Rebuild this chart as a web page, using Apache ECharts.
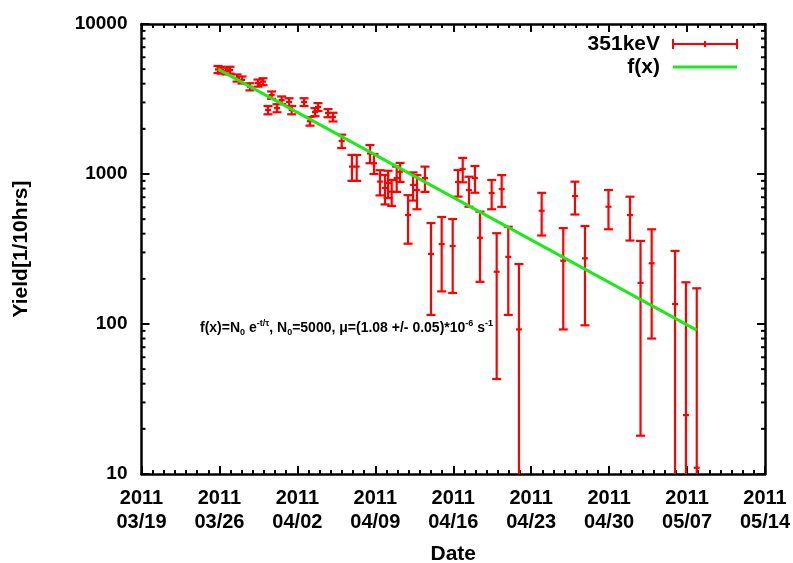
<!DOCTYPE html>
<html>
<head>
<meta charset="utf-8">
<script src="https://cdn.jsdelivr.net/npm/echarts@6.0.0/dist/echarts.min.js"></script>
<style>
  html, body { margin: 0; padding: 0; background: #fff; }
  #chart { width: 793px; height: 563px; }
</style>
</head>
<body>
<div id="chart"></div>
<script>
    // x = days since 2011-03-19 00:00
    var dayOffsets = [6.87, 7.14, 7.59, 7.95, 8.58, 9.03, 9.74, 10.46, 10.91, 11.36,
        11.69, 12.17, 12.59, 13.25, 13.49, 14.6, 15.13, 15.58, 15.85, 16.75,
        17.2, 17.98, 18.9, 19.33, 20.52, 20.88, 21.42, 21.87, 22.14, 22.47,
        22.92, 23.22, 23.94, 24.39, 24.74, 25.46, 26.0, 26.96, 27.95, 28.43,
        28.85, 29.41, 29.95, 30.4, 31.45, 31.9, 32.35, 32.94, 33.9, 35.94,
        37.88, 38.93, 39.83, 41.94, 43.87, 44.82, 45.82, 47.92, 48.9, 49.87];
    var yields = [4980, 4930, 4860, 4930, 4370, 4240, 3820, 4040, 4130, 2670,
        3360, 2750, 3110, 3020, 2670, 3020, 2250, 2590, 2800, 2550,
        2400, 1660, 1120, 1120, 1370, 1180, 890, 807, 871, 762,
        940, 1035, 533, 845, 782, 940, 293, 341, 331, 885,
        1080, 782, 940, 376, 747, 223, 794, 280, 92, 569,
        264, 713, 274, 605, 533, 188, 254, 136, 24.7, 11];
    var yieldErrors = [270, 260, 250, 260, 240, 230, 210, 220, 220, 170,
        190, 170, 180, 180, 170, 180, 150, 160, 170, 160,
        160, 170, 220, 220, 190, 180, 170, 180, 180, 150,
        180, 150, 190, 180, 200, 180, 178, 176, 170, 178,
        200, 177, 190, 185, 165, 180, 190, 165, 159, 180,
        172, 176, 176, 177, 173, 170, 174, 171, 165, 162];

    // fit f(x) = N0 exp(-t/tau): straight on the log axis, so two end points
    var fitDays = [6.87, 49.87];
    var fitYields = [5000, 91];

    var xTickLabels = ['03/19', '03/26', '04/02', '04/09', '04/16', '04/23', '04/30', '05/07', '05/14'];
    var yMinorTicks = [20, 30, 40, 50, 60, 70, 80, 90,
        200, 300, 400, 500, 600, 700, 800, 900,
        2000, 3000, 4000, 5000, 6000, 7000, 8000, 9000];

    var X_MIN = 0, X_MAX = 56, Y_MIN = 10, Y_MAX = 10000;
    var xLabelFont = {fontFamily: 'Liberation Sans', fontWeight: 'bold', fontSize: 20, color: '#000'};
    var yLabelFont = {fontFamily: 'Liberation Sans', fontWeight: 'bold', fontSize: 19, color: '#000'};
    var nameFont = {fontFamily: 'Liberation Sans', fontWeight: 'bold', fontSize: 21, color: '#000'};

    var points = dayOffsets.map(function (d, i) {
        return [d, yields[i], yieldErrors[i]];
    });
    var fitLine = fitDays.map(function (d, i) {
        return [d, fitYields[i]];
    });

    function renderErrorBar(params, api) {
        var x = api.value(0), y = api.value(1), e = api.value(2);
        var lo = y - e;
        if (lo < Y_MIN) lo = Y_MIN;
        var hi = Math.min(y + e, Y_MAX);
        var pc = api.coord([x, y]);
        var pl = api.coord([x, lo]);
        var ph = api.coord([x, hi]);
        var st = {stroke: '#ff0000', lineWidth: 2.2};
        var kids = [
            {type: 'line', shape: {x1: pc[0], y1: pl[1], x2: pc[0], y2: ph[1]}, style: st},
            {type: 'line', shape: {x1: pc[0] - 4.5, y1: ph[1], x2: pc[0] + 4.5, y2: ph[1]}, style: st},
            {type: 'line', shape: {x1: pc[0] - 3, y1: pc[1], x2: pc[0] + 3, y2: pc[1]}, style: st}
        ];
        if (y - e > Y_MIN) {
            kids.push({type: 'line', shape: {x1: pc[0] - 4.5, y1: pl[1], x2: pc[0] + 4.5, y2: pl[1]}, style: st});
        }
        return {type: 'group', children: kids};
    }

    function renderMinorTick(params, api) {
        var v = api.value(0);
        var l = api.coord([X_MIN, v]);
        var r = api.coord([X_MAX, v]);
        var st = {stroke: '#000', lineWidth: 2};
        return {
            type: 'group', children: [
                {type: 'line', shape: {x1: l[0], y1: l[1], x2: l[0] + 4, y2: l[1]}, style: st},
                {type: 'line', shape: {x1: r[0], y1: r[1], x2: r[0] - 4, y2: r[1]}, style: st}
            ]
        };
    }

    var myChart = echarts.init(document.getElementById('chart'), null, {renderer: 'canvas'});
    myChart.setOption({
        animation: false,
        backgroundColor: '#fff',
        grid: {left: 141.5, right: 28, top: 24, bottom: 89, containLabel: false, outerBoundsMode: 'none'},
        xAxis: [
            {
                type: 'value', min: X_MIN, max: X_MAX, interval: 7,
                name: 'Date', nameLocation: 'middle', nameGap: 70,
                nameTextStyle: nameFont,
                axisLine: {onZero: false, lineStyle: {color: '#000', width: 2.5}},
                axisTick: {inside: true, length: 8, lineStyle: {color: '#000', width: 2}},
                minorTick: {show: true, splitNumber: 7, length: 4, lineStyle: {color: '#000', width: 2}},
                splitLine: {show: false},
                axisLabel: Object.assign({
                    margin: 12, lineHeight: 24,
                    formatter: function (v) {
                        return '2011\n' + xTickLabels[Math.round(v / 7)];
                    }
                }, xLabelFont)
            },
            {
                type: 'value', position: 'top', min: X_MIN, max: X_MAX, interval: 7,
                axisLine: {onZero: false, lineStyle: {color: '#000', width: 2.5}},
                axisTick: {inside: true, length: 8, lineStyle: {color: '#000', width: 2}},
                minorTick: {show: true, splitNumber: 7, length: 4, lineStyle: {color: '#000', width: 2}},
                splitLine: {show: false},
                axisLabel: {show: false}
            }
        ],
        yAxis: [
            {
                type: 'log', logBase: 10, min: Y_MIN, max: Y_MAX,
                name: 'Yield[1/10hrs]', nameLocation: 'middle', nameGap: 110,
                nameTextStyle: nameFont,
                axisLine: {onZero: false, lineStyle: {color: '#000', width: 2.5}},
                axisTick: {inside: true, length: 8, lineStyle: {color: '#000', width: 2}},
                splitLine: {show: false},
                axisLabel: Object.assign({
                    margin: 14, padding: [4, 0, 0, 0],
                    formatter: function (v) { return String(v); }
                }, yLabelFont)
            },
            {
                type: 'log', logBase: 10, min: Y_MIN, max: Y_MAX, position: 'right',
                axisLine: {onZero: false, lineStyle: {color: '#000', width: 2.5}},
                axisTick: {inside: true, length: 8, lineStyle: {color: '#000', width: 2}},
                splitLine: {show: false},
                axisLabel: {show: false}
            }
        ],
        series: [
            {
                name: 'minorTicks', type: 'custom', silent: true,
                renderItem: renderMinorTick,
                data: yMinorTicks.map(function (v) { return [v]; }),
                encode: {y: 0}
            },
            {
                name: '351keV', type: 'custom', clip: true, z: 3,
                renderItem: renderErrorBar,
                data: points,
                encode: {x: 0, y: 1}
            },
            {
                name: 'f(x)', type: 'line', z: 4,
                data: fitLine, showSymbol: false,
                lineStyle: {color: '#1ee81e', width: 3}
            }
        ],
        graphic: [
            {type: 'text', right: 133, top: 34,
                style: {text: '351keV', font: 'bold 21px "Liberation Sans"', fill: '#000'}},
            {type: 'text', right: 133, top: 57,
                style: {text: 'f(x)', font: 'bold 21px "Liberation Sans"', fill: '#000'}},
            {type: 'line', shape: {x1: 673, y1: 44, x2: 737, y2: 44}, style: {stroke: '#ff0000', lineWidth: 2}},
            {type: 'line', shape: {x1: 673, y1: 39, x2: 673, y2: 49}, style: {stroke: '#ff0000', lineWidth: 2}},
            {type: 'line', shape: {x1: 737, y1: 39, x2: 737, y2: 49}, style: {stroke: '#ff0000', lineWidth: 2}},
            {type: 'line', shape: {x1: 705, y1: 41, x2: 705, y2: 47}, style: {stroke: '#ff0000', lineWidth: 2}},
            {type: 'line', shape: {x1: 673, y1: 67, x2: 737, y2: 67}, style: {stroke: '#1ee81e', lineWidth: 3}},
            {
                type: 'text', left: 200, top: 319,
                style: {
                    text: '{n|f(x)=N}{sub|0}{n| e}{sup|-t/τ}{n|, N}{sub|0}{n|=5000, μ=(1.08 +/- 0.05)*10}{sup|-6}{n| s}{sup|-1}',
                    rich: {
                        n: {font: 'bold 14px "Liberation Sans"', fill: '#000', lineHeight: 18, verticalAlign: 'middle'},
                        sub: {font: 'bold 9px "Liberation Sans"', fill: '#000', lineHeight: 18, verticalAlign: 'bottom'},
                        sup: {font: 'bold 9px "Liberation Sans"', fill: '#000', lineHeight: 18, verticalAlign: 'top'}
                    }
                }
            }
        ]
    });
</script>
</body>
</html>
